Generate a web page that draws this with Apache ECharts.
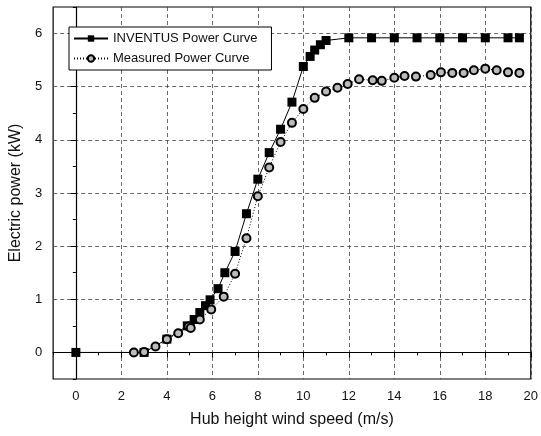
<!DOCTYPE html>
<html>
<head>
<meta charset="utf-8">
<style>
  * { margin: 0; padding: 0; }
  #container { width: 541px; height: 436px; background: #fff; }
</style>
</head>
<body>
<div id="container"></div>
<script src="https://cdn.jsdelivr.net/npm/echarts@6/dist/echarts.min.js"></script>
<script>
// wind speed (m/s) and power (kW)
var inventusX = [0, 3, 4, 4.9, 5.2, 5.45, 5.7, 5.9, 6.25, 6.55, 7, 7.5, 8, 8.5, 9, 9.5, 10, 10.3, 10.5, 10.75, 11, 12, 13, 14, 15, 16, 17, 18, 19, 19.5];
var inventusY = [0, 0, 0.25, 0.5, 0.62, 0.75, 0.88, 0.99, 1.2, 1.5, 1.9, 2.61, 3.26, 3.76, 4.2, 4.71, 5.38, 5.57, 5.69, 5.79, 5.87, 5.92, 5.92, 5.92, 5.92, 5.92, 5.92, 5.92, 5.92, 5.92];

var measuredX = [2.55, 3, 3.5, 4, 4.5, 4.95, 5.05, 5.45, 5.95, 6.5, 7, 7.5, 8, 8.5, 9, 9.5, 10, 10.5, 11, 11.5, 11.95, 12.45, 13.05, 13.45, 14, 14.45, 14.95, 15.6, 16.05, 16.55, 17.05, 17.5, 18, 18.5, 19, 19.5];
var measuredY = [0, 0.01, 0.11, 0.25, 0.36, 0.49, 0.46, 0.62, 0.81, 1.05, 1.48, 2.15, 2.94, 3.48, 3.96, 4.32, 4.58, 4.79, 4.91, 4.98, 5.05, 5.14, 5.12, 5.11, 5.17, 5.2, 5.19, 5.22, 5.27, 5.26, 5.26, 5.31, 5.34, 5.31, 5.27, 5.26];

var xTicks = [0, 2, 4, 6, 8, 10, 12, 14, 16, 18, 20];
var yTicks = [0, 1, 2, 3, 4, 5, 6];

function pairs(xs, ys) {
  return xs.map(function (x, i) { return [x, ys[i]]; });
}

var font = 'Liberation Sans, Arial, sans-serif';
var chart = echarts.init(document.getElementById('container'));

var option = {
  animation: false,
  textStyle: { fontFamily: font },
  grid: {
    left: 52, right: 8, top: 7, bottom: 57,
    show: true, borderColor: '#000', borderWidth: 1.2
  },
  legend: {
    left: 69, top: 27,
    orient: 'vertical',
    backgroundColor: '#fff',
    borderColor: '#000', borderWidth: 1,
    padding: [5, 14, 5, 4],
    itemGap: 7,
    itemWidth: 34, itemHeight: 8,
    textStyle: { fontSize: 13, color: '#111', fontFamily: font },
    data: ['INVENTUS Power Curve', 'Measured Power Curve']
  },
  xAxis: [{
    type: 'value', min: -1, max: 20,
    name: 'Hub height wind speed (m/s)',
    nameLocation: 'middle', nameGap: 33,
    nameTextStyle: { fontSize: 16, color: '#111' },
    axisLine: { lineStyle: { color: '#000', width: 1.2 } },
    axisTick: { customValues: xTicks, length: 5, lineStyle: { color: '#000' } },
    axisLabel: { customValues: xTicks, fontSize: 13, color: '#111', margin: 11 },
    splitLine: { show: true, lineStyle: { color: '#444', width: 0.8, type: [4, 3] } }
  }, {
    type: 'value', min: -1, max: 20, interval: 1, position: 'bottom',
    axisLine: { show: false },
    axisTick: { length: 3, lineStyle: { color: '#000' } },
    axisLabel: { show: false },
    splitLine: { show: false }
  }],
  yAxis: [{
    type: 'value', min: -0.5, max: 6.5,
    name: 'Electric power (kW)',
    nameLocation: 'middle', nameGap: 25,
    nameTextStyle: { fontSize: 16, color: '#111' },
    axisLine: { show: true, lineStyle: { color: '#000', width: 1.2 } },
    axisTick: { show: true, customValues: yTicks, length: 5, lineStyle: { color: '#000' } },
    axisLabel: { customValues: yTicks, fontSize: 13, color: '#111', margin: 11 },
    splitLine: { show: true, lineStyle: { color: '#444', width: 0.8, type: [4, 3] } }
  }, {
    type: 'value', min: -0.5, max: 6.5, interval: 0.5, position: 'left',
    axisLine: { show: false },
    axisTick: { show: true, length: 3, lineStyle: { color: '#000' } },
    axisLabel: { show: false },
    splitLine: { show: false }
  }],
  series: [{
    name: 'INVENTUS Power Curve',
    type: 'line',
    data: pairs(inventusX, inventusY),
    symbol: 'rect', symbolSize: 9,
    itemStyle: { color: '#000' },
    lineStyle: { color: '#000', width: 1 }
  }, {
    name: 'Measured Power Curve',
    type: 'line',
    data: pairs(measuredX, measuredY),
    symbol: 'circle', symbolSize: 8,
    itemStyle: { color: '#bbb', borderColor: '#000', borderWidth: 2 },
    lineStyle: { color: '#000', width: 1, type: [1, 2] }
  }]
};

chart.setOption(option);
</script>
</body>
</html>
